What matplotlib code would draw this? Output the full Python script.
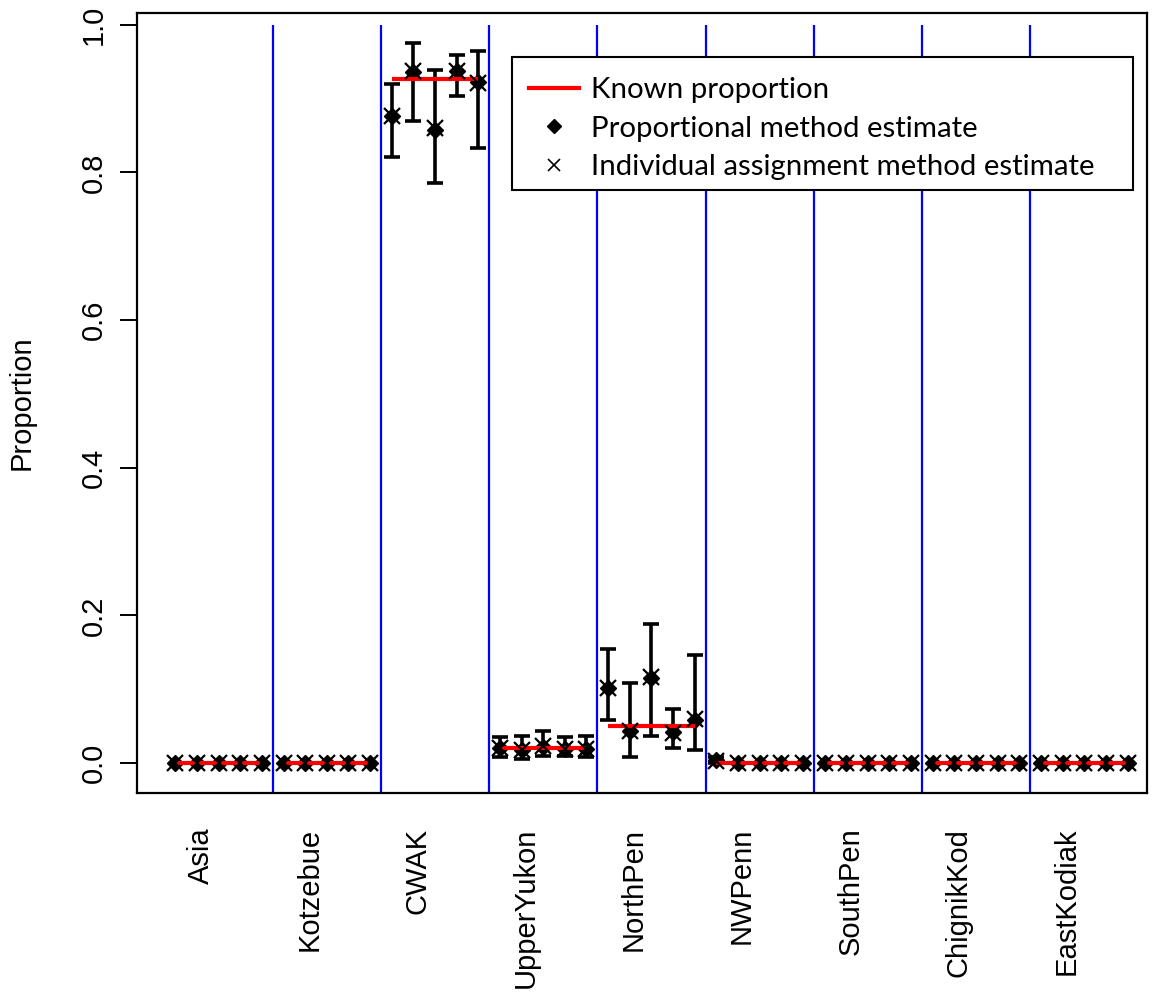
import numpy as np
import matplotlib
matplotlib.use("Agg")
import matplotlib.pyplot as plt
from matplotlib.lines import Line2D
from matplotlib.patches import Rectangle

# --- data ------------------------------------------------------------------
groups = ["Asia", "Kotzebue", "CWAK", "UpperYukon", "NorthPen",
          "NWPenn", "SouthPen", "ChignikKod", "EastKodiak"]
known = [0.0, 0.0, 0.927, 0.021, 0.050, 0.0, 0.0, 0.0, 0.0]

# five mixtures per reporting group
prop_est = [0.0, 0.0, 0.0, 0.0, 0.0,
            0.0, 0.0, 0.0, 0.0, 0.0,
            0.876, 0.936, 0.858, 0.937, 0.922,
            0.020, 0.018, 0.022, 0.019, 0.019,
            0.101, 0.044, 0.115, 0.042, 0.058,
            0.004, 0.0, 0.0, 0.0, 0.0,
            0.0, 0.0, 0.0, 0.0, 0.0,
            0.0, 0.0, 0.0, 0.0, 0.0,
            0.0, 0.0, 0.0, 0.0, 0.0]
indiv_est = [0.0, 0.0, 0.0, 0.0, 0.0,
             0.0, 0.0, 0.0, 0.0, 0.0,
             0.877, 0.938, 0.860, 0.938, 0.921,
             0.020, 0.017, 0.023, 0.019, 0.019,
             0.102, 0.043, 0.116, 0.041, 0.059,
             0.003, 0.0, 0.0, 0.0, 0.0,
             0.0, 0.0, 0.0, 0.0, 0.0,
             0.0, 0.0, 0.0, 0.0, 0.0,
             0.0, 0.0, 0.0, 0.0, 0.0]
ci_low = [0.0, 0.0, 0.0, 0.0, 0.0,
          0.0, 0.0, 0.0, 0.0, 0.0,
          0.821, 0.870, 0.786, 0.903, 0.833,
          0.008, 0.005, 0.010, 0.010, 0.008,
          0.058, 0.008, 0.036, 0.021, 0.017,
          0.0, 0.0, 0.0, 0.0, 0.0,
          0.0, 0.0, 0.0, 0.0, 0.0,
          0.0, 0.0, 0.0, 0.0, 0.0,
          0.0, 0.0, 0.0, 0.0, 0.0]
ci_high = [0.0, 0.0, 0.0, 0.0, 0.0,
           0.0, 0.0, 0.0, 0.0, 0.0,
           0.920, 0.975, 0.939, 0.959, 0.965,
           0.035, 0.036, 0.044, 0.035, 0.037,
           0.154, 0.109, 0.189, 0.073, 0.146,
           0.008, 0.0, 0.0, 0.0, 0.0,
           0.0, 0.0, 0.0, 0.0, 0.0,
           0.0, 0.0, 0.0, 0.0, 0.0,
           0.0, 0.0, 0.0, 0.0, 0.0]
yticks = [0.0, 0.2, 0.4, 0.6, 0.8, 1.0]

AXFONT = "Liberation Sans"
LEGFONT = "Lato"
W, H = 1155, 996

n_per = 5
x = np.arange(1, len(prop_est) + 1)
prop_est = np.array(prop_est); indiv_est = np.array(indiv_est)
lo = np.array(ci_low); hi = np.array(ci_high)

fig = plt.figure(figsize=(W / 100, H / 100), dpi=100)
ax = fig.add_axes([137/W, 1 - 793/H, 1010/W, 780/H])

# group separators
seps = np.arange(n_per + 0.5, len(x), n_per)
ax.vlines(seps, -0.1, 1.0, color="#0000FF", lw=1.6, zorder=1)

# error bars (only where the interval has length)
has_ci = hi > lo
ax.errorbar(x[has_ci], prop_est[has_ci],
            yerr=[prop_est[has_ci] - lo[has_ci], hi[has_ci] - prop_est[has_ci]],
            fmt="none", ecolor="black", elinewidth=2.6, capsize=6,
            capthick=2.6, zorder=2)

ax.plot(x, prop_est, "D", color="black", ms=8, ls="none", zorder=3)

# known proportion per group
for i, k in enumerate(known):
    xs = [i * n_per + 1, i * n_per + n_per]
    ax.plot(xs, [k, k], color="#FF0000", lw=3, solid_capstyle="butt", zorder=4)

ax.plot(x, indiv_est, "x", color="black", ms=11, mew=1.6, ls="none", zorder=5)

ax.set_xlim(-0.77, 45.9)
ax.set_ylim(-0.0406, 1.016)

for sp in ax.spines.values():
    sp.set_linewidth(1.6)

ax.set_yticks(yticks)
ax.set_yticklabels([f"{v:.1f}" for v in yticks], rotation=90, va="center",
                   fontsize=21, family=AXFONT)
ax.tick_params(axis="y", length=12, width=1.4, pad=9)

centers = np.arange(len(groups)) * n_per + 3 - 0.81
ax.set_xticks(centers)
ax.set_xticklabels(groups, rotation=90, va="top", ha="center",
                   fontsize=21, family=AXFONT)
ax.tick_params(axis="x", length=0, pad=25)

fig.text(22/W, 1 - 403/H, "Proportion", rotation=90, ha="center",
         va="center", fontsize=21, family=AXFONT)

# legend: entries without frame, box drawn separately (R-style wide box)
handles = [
    Line2D([], [], color="#FF0000", lw=3),
    Line2D([], [], marker="D", color="black", ms=7, ls="none"),
    Line2D([], [], marker="x", color="black", ms=9, mew=1.2, ls="none"),
]
labels = ["Known proportion", "Proportional method estimate",
          "Individual assignment method estimate"]
leg = fig.legend(handles, labels, loc="upper left",
                 bbox_to_anchor=(513/W, 1 - 61/H), borderaxespad=0,
                 frameon=False, handlelength=1.7, handletextpad=0.4,
                 borderpad=0.55, labelspacing=0.42,
                 prop={"family": LEGFONT, "size": 21.2})
fig.patches.append(Rectangle((512/W, 1 - 190/H), (1133 - 512)/W, 133/H,
                             transform=fig.transFigure, facecolor="white",
                             edgecolor="black", lw=1.5, zorder=6))
leg.set_zorder(7)

fig.savefig("out.png", dpi=100, facecolor="white")
